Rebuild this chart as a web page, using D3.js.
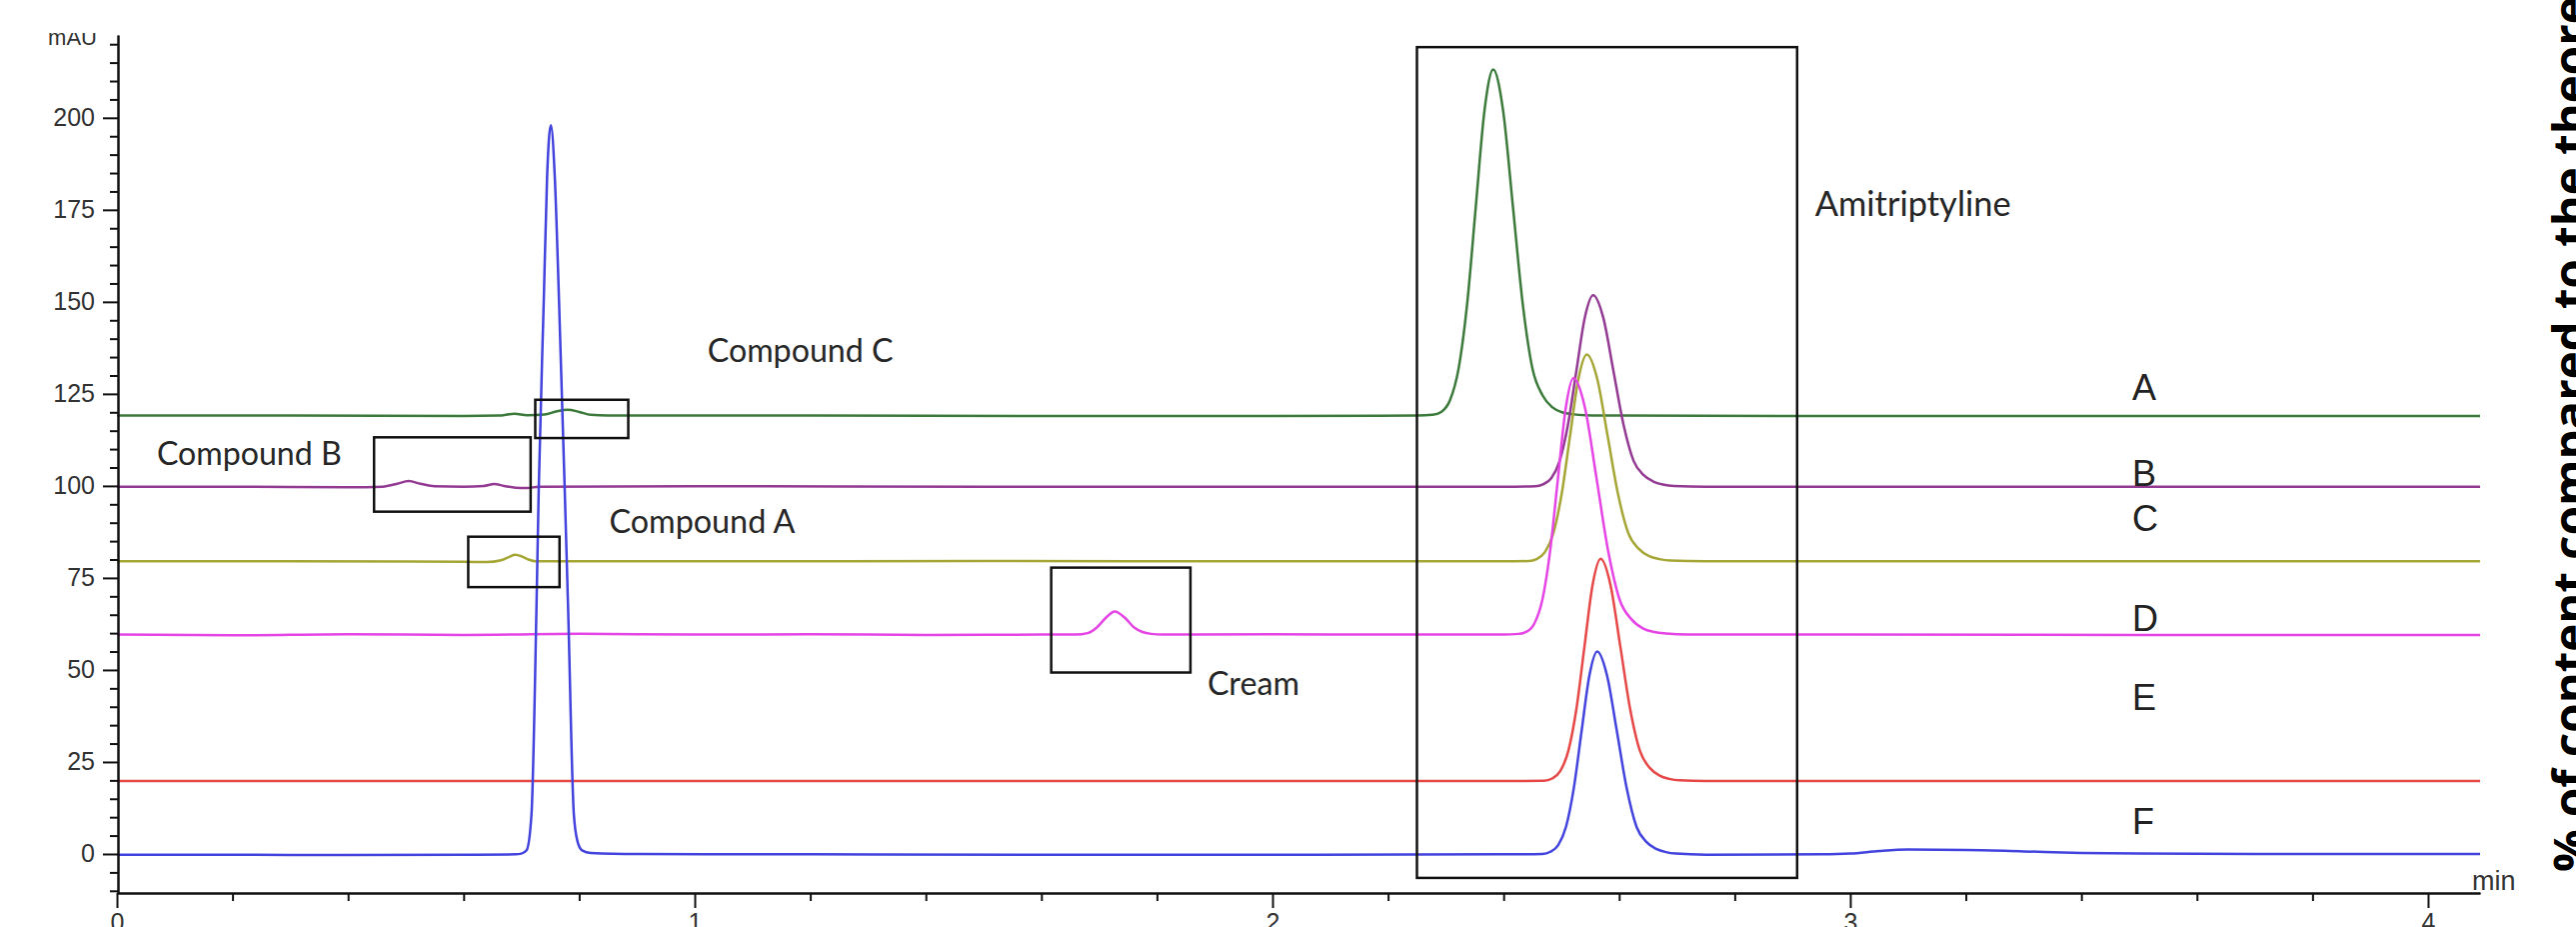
<!DOCTYPE html>
<html><head><meta charset="utf-8">
<script src="https://cdn.jsdelivr.net/npm/d3@7"></script>
<style>html,body{margin:0;padding:0;background:#fff;overflow:hidden}svg{display:block}</style>
</head><body>
<svg id="chart" width="2577" height="927"></svg>
<script>
// ---------- data (time in min, signal in mAU) ----------
const xTickValues = [0, 1, 2, 3, 4];
const yTickValues = [0, 25, 50, 75, 100, 125, 150, 175, 200];
const traceNames = ["A", "B", "C", "D", "E", "F"];
const traceLabelPos = [123.4, 100.0, 87.8, 60.6, 39.1, 5.4]; // label baselines (mAU) at t=3.488

const traceA = [[0,119.1],[0.3,119.1],[0.6,119.0],[0.66,119.1],[0.688,119.6],[0.71,119.2],[0.74,119.4],[0.76,120.2],[0.78,120.7],[0.80,120.1],[0.82,119.3],[0.85,119.1],[1.2,119.1],[1.6,119.0],[2.0,119.0],[2.25,119.1],[2.277,119.3],[2.292,120.1],[2.307,123.2],[2.322,131.8],[2.337,149.6],[2.352,176.1],[2.367,202.1],[2.382,213.1],[2.399,202.1],[2.416,176.1],[2.433,149.6],[2.450,131.8],[2.467,124.7],[2.484,121.4],[2.501,120.0],[2.518,119.5],[2.542,119.2],[2.6,119.1],[3.0,119.0],[3.5,119.0],[4.09,119.0]];
const traceB = [[0,99.8],[0.2,99.8],[0.40,99.6],[0.46,99.8],[0.485,100.6],[0.505,101.3],[0.525,100.6],[0.55,99.9],[0.60,99.8],[0.635,100.0],[0.653,100.5],[0.67,100.0],[0.69,99.5],[0.71,99.4],[0.73,99.8],[1.0,99.9],[1.5,99.8],[2.0,99.8],[2.4,99.8],[2.455,99.9],[2.468,100.4],[2.4825,102.1],[2.497,106.8],[2.5115,116.7],[2.526,131.3],[2.5405,145.7],[2.555,151.8],[2.5725,145.7],[2.590,131.3],[2.6075,116.7],[2.625,106.8],[2.6425,102.9],[2.660,101.1],[2.6775,100.3],[2.695,100.0],[2.75,99.8],[3.2,99.8],[3.7,99.8],[4.09,99.8]];
const traceC = [[0,79.5],[0.3,79.5],[0.6,79.4],[0.64,79.3],[0.665,79.8],[0.68,80.8],[0.689,81.3],[0.70,80.9],[0.712,80.0],[0.725,79.5],[1.0,79.5],[1.5,79.6],[2.0,79.5],[2.4,79.5],[2.444,79.6],[2.457,80.1],[2.4715,82.0],[2.486,87.1],[2.5005,97.8],[2.515,113.6],[2.5295,129.1],[2.544,135.7],[2.562,129.1],[2.580,113.6],[2.598,97.8],[2.616,87.1],[2.634,82.9],[2.652,80.9],[2.670,80.1],[2.688,79.7],[2.75,79.5],[3.3,79.5],[4.09,79.5]];
const traceD = [[0,59.6],[0.2,59.4],[0.4,59.7],[0.6,59.5],[0.8,59.8],[1.0,59.6],[1.2,59.7],[1.4,59.5],[1.6,59.6],[1.66,59.6],[1.68,60.0],[1.695,61.4],[1.71,63.9],[1.727,65.9],[1.745,64.1],[1.76,61.6],[1.775,60.3],[1.79,59.8],[1.81,59.6],[2.0,59.7],[2.2,59.6],[2.4,59.6],[2.426,59.8],[2.440,60.4],[2.4535,62.7],[2.467,69.0],[2.4805,82.3],[2.494,101.9],[2.5075,121.1],[2.521,129.3],[2.541,121.1],[2.561,101.9],[2.581,82.3],[2.601,69.0],[2.621,63.8],[2.641,61.3],[2.661,60.3],[2.681,59.9],[2.72,59.6],[3.0,59.6],[3.5,59.5],[4.09,59.5]];
const traceE = [[0,19.8],[0.5,19.8],[1.0,19.8],[1.5,19.8],[2.0,19.8],[2.4,19.8],[2.470,19.9],[2.484,20.5],[2.498,22.5],[2.512,28.0],[2.526,39.4],[2.540,56.4],[2.554,73.1],[2.568,80.2],[2.585,73.1],[2.602,56.4],[2.619,39.4],[2.636,28.0],[2.653,23.4],[2.670,21.3],[2.687,20.4],[2.704,20.0],[2.75,19.8],[3.2,19.8],[3.7,19.8],[4.09,19.8]];
const traceF = [[0,-0.2],[0.2,-0.2],[0.4,-0.3],[0.6,-0.2],[0.69,-0.1],[0.70,0.1],[0.709,1.0],[0.7175,10.8],[0.726,66],[0.730,99],[0.7387,150],[0.7445,184],[0.751,198],[0.7578,184],[0.7652,150],[0.775,99],[0.781,66],[0.7907,11],[0.797,3.5],[0.805,1.0],[0.82,0.3],[0.9,0.0],[1.2,-0.1],[1.6,-0.2],[2.0,-0.2],[2.4,-0.1],[2.467,0.0],[2.481,0.6],[2.4945,2.4],[2.508,7.4],[2.5215,17.9],[2.535,33.4],[2.5485,48.5],[2.562,55.0],[2.579,48.5],[2.596,33.4],[2.613,17.9],[2.630,7.4],[2.647,3.3],[2.664,1.4],[2.681,0.5],[2.698,0.1],[2.75,-0.2],[2.95,-0.1],[3.0,0.1],[3.05,0.8],[3.1,1.2],[3.2,1.1],[3.3,0.7],[3.4,0.3],[3.5,0.1],[3.7,0.0],[4.09,0.0]];

// annotation boxes: [t0, t1, vTop, vBottom]
const boxCompoundB = [0.445, 0.716, 113.2, 93.0];
const boxCompoundC = [0.724, 0.885, 123.4, 113.0];
const boxCompoundA = [0.608, 0.766, 86.2, 72.5];
const boxCream = [1.617, 1.858, 77.8, 49.3];
const boxAmitriptyline = [2.25, 2.908, 219.2, -6.5];
// annotation texts: [text, t, v]
const annotationTexts = [["Compound B", 0.069, 105.7], ["Compound C", 1.022, 133.7], ["Compound A", 0.852, 87.2], ["Cream", 1.8875, 43.2], ["Amitriptyline", 2.939, 173.2]];
const annotationWidths = [185, 186, 186, 92, 196];

// ---------- drawing ----------
const svg = d3.select("#chart");
const x = d3.scaleLinear().domain([0, 4.09]).range([117, 2481]);
const y = d3.scaleLinear().domain([-10.6, 222.5]).range([893, 35]);
const colors = ["#3b7a3b", "#933a93", "#a6a637", "#e645e6", "#e64848", "#4343dd"];
const traces = [traceA, traceB, traceC, traceD, traceE, traceF];

const line = d3.line().x(d => x(d[0])).y(d => y(d[1])).curve(d3.curveMonotoneX);
traces.forEach((tr, i) => {
  svg.append("path").datum(tr).attr("d", line)
    .attr("fill", "none").attr("stroke", colors[i]).attr("stroke-width", 2.5)
    .attr("stroke-linejoin", "round");
});

// boxes
[boxCompoundB, boxCompoundC, boxCompoundA, boxCream, boxAmitriptyline].forEach(b => {
  svg.append("rect")
    .attr("x", x(b[0])).attr("y", y(b[2]))
    .attr("width", x(b[1]) - x(b[0])).attr("height", y(b[3]) - y(b[2]))
    .attr("fill", "none").attr("stroke", "#111").attr("stroke-width", 2.5);
});

// y axis
const yMinor = d3.range(-10, 225, 5).filter(v => v % 25 !== 0);
svg.append("g").attr("transform", "translate(118,0)")
  .call(d3.axisLeft(y).tickValues(yMinor).tickSize(8).tickSizeOuter(0).tickFormat(""))
  .call(g => g.selectAll("line").attr("stroke", "#111").attr("stroke-width", 2));
const yAx = svg.append("g").attr("transform", "translate(118,0)")
  .call(d3.axisLeft(y).tickValues(yTickValues).tickSize(15).tickSizeOuter(0).tickPadding(8).tickFormat(d3.format("d")));
yAx.select(".domain").attr("stroke", "#111").attr("stroke-width", 2.5);
yAx.selectAll("line").attr("stroke", "#111").attr("stroke-width", 2);
yAx.selectAll("text").attr("font-family", "Liberation Sans, Arial, sans-serif")
  .attr("font-size", 25).attr("fill", "#333");

// x axis
const xMinor = d3.range(0.2, 4.09, 0.2).filter(v => Math.abs(v - Math.round(v)) > 0.01);
svg.append("g").attr("transform", "translate(0,893)")
  .call(d3.axisBottom(x).tickValues(xMinor).tickSize(8).tickSizeOuter(0).tickFormat(""))
  .call(g => g.selectAll("line").attr("stroke", "#111").attr("stroke-width", 2));
const xAx = svg.append("g").attr("transform", "translate(0,893)")
  .call(d3.axisBottom(x).tickValues(xTickValues).tickSize(15).tickSizeOuter(0).tickPadding(4).tickFormat(d3.format("d")));
xAx.select(".domain").attr("stroke", "#111").attr("stroke-width", 2.5);
xAx.selectAll("line").attr("stroke", "#111").attr("stroke-width", 2);
xAx.selectAll("text").attr("font-family", "Liberation Sans, Arial, sans-serif")
  .attr("font-size", 25).attr("fill", "#333").attr("dy", "0.75em");

// axis unit labels
svg.append("clipPath").attr("id", "topclip").append("rect")
  .attr("x", 0).attr("y", 33).attr("width", 300).attr("height", 100);
svg.append("text").attr("clip-path", "url(#topclip)")
  .attr("x", 97).attr("y", 45).attr("text-anchor", "end")
  .attr("font-family", "Liberation Sans, Arial, sans-serif").attr("font-size", 22)
  .attr("fill", "#333").text("mAU");
svg.append("text").attr("x", 2473).attr("y", 890)
  .attr("font-family", "Liberation Sans, Arial, sans-serif").attr("font-size", 27)
  .attr("fill", "#333").text("min");

// trace labels
traceNames.forEach((n, i) => {
  svg.append("text").attr("x", x(3.488)).attr("y", y(traceLabelPos[i]))
    .attr("font-family", "Liberation Sans, Arial, sans-serif").attr("font-size", 36)
    .attr("fill", "#222").text(n);
});

// annotations
function fit(sel, target) {
  const len = sel.node().getComputedTextLength();
  const fs = parseFloat(sel.attr("font-size"));
  if (len > 0) sel.attr("font-size", fs * target / len);
}
annotationTexts.forEach((a, i) => {
  const t = svg.append("text").attr("x", x(a[1])).attr("y", y(a[2]))
    .attr("font-family", "Lato, 'Open Sans', sans-serif").attr("font-size", 32)
    .attr("fill", "#262626").text(a[0]);
  fit(t, annotationWidths[i]);
});

// rotated right-edge text
const rt = svg.append("text").attr("transform", "translate(2588,872) rotate(-90)")
  .attr("font-family", "'Open Sans', sans-serif").attr("font-weight", 700)
  .attr("font-size", 46).attr("fill", "#000")
  .text("% of content compared to the theore");
fit(rt, 876);
</script>
</body></html>
